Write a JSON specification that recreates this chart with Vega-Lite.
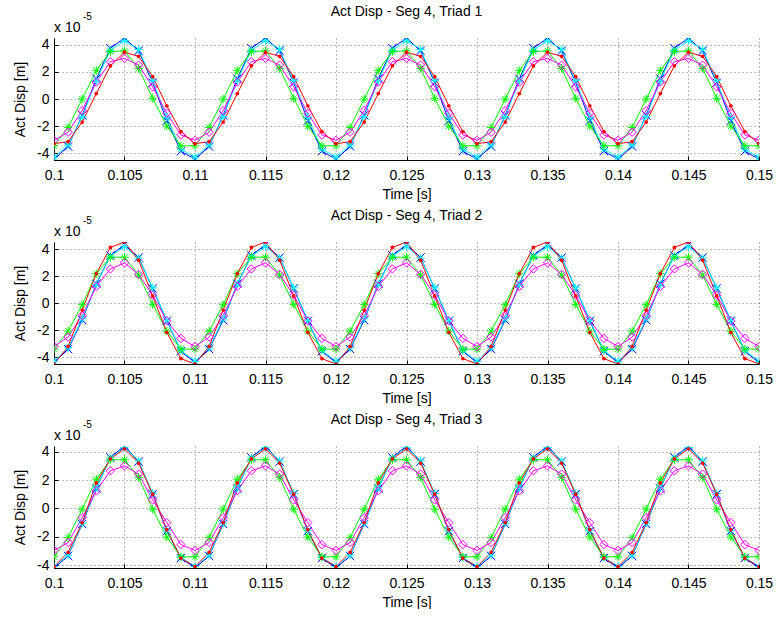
{
  "$schema": "https://vega.github.io/schema/vega-lite/v6.json",
  "background": "white",
  "padding": {"left": 13, "top": 5, "right": 5, "bottom": 0},
  "config": {
    "view": {"stroke": null},
    "font": "Liberation Sans",
    "axis": {
      "domainColor": "#000",
      "tickColor": "#000",
      "labelColor": "#000",
      "titleColor": "#000",
      "labelFont": "Liberation Sans",
      "titleFont": "Liberation Sans",
      "labelFontSize": 14,
      "titleFontSize": 14,
      "titleFontWeight": "normal",
      "gridColor": "#000",
      "gridOpacity": 0.55,
      "gridDash": [1, 3],
      "tickSize": -4,
      "labelFlush": false,
      "labelOverlap": false
    },
    "title": {"font": "Liberation Sans", "fontSize": 14, "fontWeight": "normal", "color": "#000", "frame": "group", "offset": -7}
  },
  "datasets": {
    "p1": [
      {"s":"b","t":0.1,"v":-4.45},{"s":"b","t":0.101,"v":-3.5},{"s":"b","t":0.102,"v":-1.2},{"s":"b","t":0.103,"v":1.5},{"s":"b","t":0.104,"v":3.75},{"s":"b","t":0.105,"v":4.5},{"s":"b","t":0.106,"v":3.55},{"s":"b","t":0.107,"v":1.2},{"s":"b","t":0.108,"v":-1.6},{"s":"b","t":0.109,"v":-3.85},
      {"s":"b","t":0.11,"v":-4.45},{"s":"b","t":0.111,"v":-3.5},{"s":"b","t":0.112,"v":-1.2},{"s":"b","t":0.113,"v":1.5},{"s":"b","t":0.114,"v":3.75},{"s":"b","t":0.115,"v":4.5},{"s":"b","t":0.116,"v":3.55},{"s":"b","t":0.117,"v":1.2},{"s":"b","t":0.118,"v":-1.6},{"s":"b","t":0.119,"v":-3.85},
      {"s":"b","t":0.12,"v":-4.45},{"s":"b","t":0.121,"v":-3.5},{"s":"b","t":0.122,"v":-1.2},{"s":"b","t":0.123,"v":1.5},{"s":"b","t":0.124,"v":3.75},{"s":"b","t":0.125,"v":4.5},{"s":"b","t":0.126,"v":3.55},{"s":"b","t":0.127,"v":1.2},{"s":"b","t":0.128,"v":-1.6},{"s":"b","t":0.129,"v":-3.85},
      {"s":"b","t":0.13,"v":-4.45},{"s":"b","t":0.131,"v":-3.5},{"s":"b","t":0.132,"v":-1.2},{"s":"b","t":0.133,"v":1.5},{"s":"b","t":0.134,"v":3.75},{"s":"b","t":0.135,"v":4.5},{"s":"b","t":0.136,"v":3.55},{"s":"b","t":0.137,"v":1.2},{"s":"b","t":0.138,"v":-1.6},{"s":"b","t":0.139,"v":-3.85},
      {"s":"b","t":0.14,"v":-4.45},{"s":"b","t":0.141,"v":-3.5},{"s":"b","t":0.142,"v":-1.2},{"s":"b","t":0.143,"v":1.5},{"s":"b","t":0.144,"v":3.75},{"s":"b","t":0.145,"v":4.5},{"s":"b","t":0.146,"v":3.55},{"s":"b","t":0.147,"v":1.2},{"s":"b","t":0.148,"v":-1.6},{"s":"b","t":0.149,"v":-3.85},
      {"s":"b","t":0.15,"v":-4.45},
      {"s":"c","t":0.1,"v":-4.3},{"s":"c","t":0.101,"v":-3.4},{"s":"c","t":0.102,"v":-1.3},{"s":"c","t":0.103,"v":1.35},{"s":"c","t":0.104,"v":3.6},{"s":"c","t":0.105,"v":4.3},{"s":"c","t":0.106,"v":3.65},{"s":"c","t":0.107,"v":1.35},{"s":"c","t":0.108,"v":-1.35},{"s":"c","t":0.109,"v":-3.7},
      {"s":"c","t":0.11,"v":-4.3},{"s":"c","t":0.111,"v":-3.4},{"s":"c","t":0.112,"v":-1.3},{"s":"c","t":0.113,"v":1.35},{"s":"c","t":0.114,"v":3.6},{"s":"c","t":0.115,"v":4.3},{"s":"c","t":0.116,"v":3.65},{"s":"c","t":0.117,"v":1.35},{"s":"c","t":0.118,"v":-1.35},{"s":"c","t":0.119,"v":-3.7},
      {"s":"c","t":0.12,"v":-4.3},{"s":"c","t":0.121,"v":-3.4},{"s":"c","t":0.122,"v":-1.3},{"s":"c","t":0.123,"v":1.35},{"s":"c","t":0.124,"v":3.6},{"s":"c","t":0.125,"v":4.3},{"s":"c","t":0.126,"v":3.65},{"s":"c","t":0.127,"v":1.35},{"s":"c","t":0.128,"v":-1.35},{"s":"c","t":0.129,"v":-3.7},
      {"s":"c","t":0.13,"v":-4.3},{"s":"c","t":0.131,"v":-3.4},{"s":"c","t":0.132,"v":-1.3},{"s":"c","t":0.133,"v":1.35},{"s":"c","t":0.134,"v":3.6},{"s":"c","t":0.135,"v":4.3},{"s":"c","t":0.136,"v":3.65},{"s":"c","t":0.137,"v":1.35},{"s":"c","t":0.138,"v":-1.35},{"s":"c","t":0.139,"v":-3.7},
      {"s":"c","t":0.14,"v":-4.3},{"s":"c","t":0.141,"v":-3.4},{"s":"c","t":0.142,"v":-1.3},{"s":"c","t":0.143,"v":1.35},{"s":"c","t":0.144,"v":3.6},{"s":"c","t":0.145,"v":4.3},{"s":"c","t":0.146,"v":3.65},{"s":"c","t":0.147,"v":1.35},{"s":"c","t":0.148,"v":-1.35},{"s":"c","t":0.149,"v":-3.7},
      {"s":"c","t":0.15,"v":-4.3},
      {"s":"g","t":0.1,"v":-3.45},{"s":"g","t":0.101,"v":-2.1},{"s":"g","t":0.102,"v":0},{"s":"g","t":0.103,"v":2.1},{"s":"g","t":0.104,"v":3.5},{"s":"g","t":0.105,"v":3.55},{"s":"g","t":0.106,"v":2.25},{"s":"g","t":0.107,"v":0.05},{"s":"g","t":0.108,"v":-2.0},{"s":"g","t":0.109,"v":-3.45},
      {"s":"g","t":0.11,"v":-3.45},{"s":"g","t":0.111,"v":-2.1},{"s":"g","t":0.112,"v":0},{"s":"g","t":0.113,"v":2.1},{"s":"g","t":0.114,"v":3.5},{"s":"g","t":0.115,"v":3.55},{"s":"g","t":0.116,"v":2.25},{"s":"g","t":0.117,"v":0.05},{"s":"g","t":0.118,"v":-2.0},{"s":"g","t":0.119,"v":-3.45},
      {"s":"g","t":0.12,"v":-3.45},{"s":"g","t":0.121,"v":-2.1},{"s":"g","t":0.122,"v":0},{"s":"g","t":0.123,"v":2.1},{"s":"g","t":0.124,"v":3.5},{"s":"g","t":0.125,"v":3.55},{"s":"g","t":0.126,"v":2.25},{"s":"g","t":0.127,"v":0.05},{"s":"g","t":0.128,"v":-2.0},{"s":"g","t":0.129,"v":-3.45},
      {"s":"g","t":0.13,"v":-3.45},{"s":"g","t":0.131,"v":-2.1},{"s":"g","t":0.132,"v":0},{"s":"g","t":0.133,"v":2.1},{"s":"g","t":0.134,"v":3.5},{"s":"g","t":0.135,"v":3.55},{"s":"g","t":0.136,"v":2.25},{"s":"g","t":0.137,"v":0.05},{"s":"g","t":0.138,"v":-2.0},{"s":"g","t":0.139,"v":-3.45},
      {"s":"g","t":0.14,"v":-3.45},{"s":"g","t":0.141,"v":-2.1},{"s":"g","t":0.142,"v":0},{"s":"g","t":0.143,"v":2.1},{"s":"g","t":0.144,"v":3.5},{"s":"g","t":0.145,"v":3.55},{"s":"g","t":0.146,"v":2.25},{"s":"g","t":0.147,"v":0.05},{"s":"g","t":0.148,"v":-2.0},{"s":"g","t":0.149,"v":-3.45},
      {"s":"g","t":0.15,"v":-3.45},
      {"s":"m","t":0.1,"v":-3.05},{"s":"m","t":0.101,"v":-2.45},{"s":"m","t":0.102,"v":-0.85},{"s":"m","t":0.103,"v":1.25},{"s":"m","t":0.104,"v":2.75},{"s":"m","t":0.105,"v":3.0},{"s":"m","t":0.106,"v":2.5},{"s":"m","t":0.107,"v":0.9},{"s":"m","t":0.108,"v":-1.05},{"s":"m","t":0.109,"v":-2.65},
      {"s":"m","t":0.11,"v":-3.05},{"s":"m","t":0.111,"v":-2.45},{"s":"m","t":0.112,"v":-0.85},{"s":"m","t":0.113,"v":1.25},{"s":"m","t":0.114,"v":2.75},{"s":"m","t":0.115,"v":3.0},{"s":"m","t":0.116,"v":2.5},{"s":"m","t":0.117,"v":0.9},{"s":"m","t":0.118,"v":-1.05},{"s":"m","t":0.119,"v":-2.65},
      {"s":"m","t":0.12,"v":-3.05},{"s":"m","t":0.121,"v":-2.45},{"s":"m","t":0.122,"v":-0.85},{"s":"m","t":0.123,"v":1.25},{"s":"m","t":0.124,"v":2.75},{"s":"m","t":0.125,"v":3.0},{"s":"m","t":0.126,"v":2.5},{"s":"m","t":0.127,"v":0.9},{"s":"m","t":0.128,"v":-1.05},{"s":"m","t":0.129,"v":-2.65},
      {"s":"m","t":0.13,"v":-3.05},{"s":"m","t":0.131,"v":-2.45},{"s":"m","t":0.132,"v":-0.85},{"s":"m","t":0.133,"v":1.25},{"s":"m","t":0.134,"v":2.75},{"s":"m","t":0.135,"v":3.0},{"s":"m","t":0.136,"v":2.5},{"s":"m","t":0.137,"v":0.9},{"s":"m","t":0.138,"v":-1.05},{"s":"m","t":0.139,"v":-2.65},
      {"s":"m","t":0.14,"v":-3.05},{"s":"m","t":0.141,"v":-2.45},{"s":"m","t":0.142,"v":-0.85},{"s":"m","t":0.143,"v":1.25},{"s":"m","t":0.144,"v":2.75},{"s":"m","t":0.145,"v":3.0},{"s":"m","t":0.146,"v":2.5},{"s":"m","t":0.147,"v":0.9},{"s":"m","t":0.148,"v":-1.05},{"s":"m","t":0.149,"v":-2.65},
      {"s":"m","t":0.15,"v":-3.05},
      {"s":"r","t":0.1,"v":-3.3},{"s":"r","t":0.101,"v":-3.15},{"s":"r","t":0.102,"v":-1.7},{"s":"r","t":0.103,"v":0.4},{"s":"r","t":0.104,"v":2.45},{"s":"r","t":0.105,"v":3.45},{"s":"r","t":0.106,"v":3.15},{"s":"r","t":0.107,"v":1.65},{"s":"r","t":0.108,"v":-0.5},{"s":"r","t":0.109,"v":-2.4},
      {"s":"r","t":0.11,"v":-3.3},{"s":"r","t":0.111,"v":-3.15},{"s":"r","t":0.112,"v":-1.7},{"s":"r","t":0.113,"v":0.4},{"s":"r","t":0.114,"v":2.45},{"s":"r","t":0.115,"v":3.45},{"s":"r","t":0.116,"v":3.15},{"s":"r","t":0.117,"v":1.65},{"s":"r","t":0.118,"v":-0.5},{"s":"r","t":0.119,"v":-2.4},
      {"s":"r","t":0.12,"v":-3.3},{"s":"r","t":0.121,"v":-3.15},{"s":"r","t":0.122,"v":-1.7},{"s":"r","t":0.123,"v":0.4},{"s":"r","t":0.124,"v":2.45},{"s":"r","t":0.125,"v":3.45},{"s":"r","t":0.126,"v":3.15},{"s":"r","t":0.127,"v":1.65},{"s":"r","t":0.128,"v":-0.5},{"s":"r","t":0.129,"v":-2.4},
      {"s":"r","t":0.13,"v":-3.3},{"s":"r","t":0.131,"v":-3.15},{"s":"r","t":0.132,"v":-1.7},{"s":"r","t":0.133,"v":0.4},{"s":"r","t":0.134,"v":2.45},{"s":"r","t":0.135,"v":3.45},{"s":"r","t":0.136,"v":3.15},{"s":"r","t":0.137,"v":1.65},{"s":"r","t":0.138,"v":-0.5},{"s":"r","t":0.139,"v":-2.4},
      {"s":"r","t":0.14,"v":-3.3},{"s":"r","t":0.141,"v":-3.15},{"s":"r","t":0.142,"v":-1.7},{"s":"r","t":0.143,"v":0.4},{"s":"r","t":0.144,"v":2.45},{"s":"r","t":0.145,"v":3.45},{"s":"r","t":0.146,"v":3.15},{"s":"r","t":0.147,"v":1.65},{"s":"r","t":0.148,"v":-0.5},{"s":"r","t":0.149,"v":-2.4},
      {"s":"r","t":0.15,"v":-3.3}
    ],
    "p2": [
      {"s":"b","t":0.1,"v":-4.4},{"s":"b","t":0.101,"v":-3.4},{"s":"b","t":0.102,"v":-1.25},{"s":"b","t":0.103,"v":1.45},{"s":"b","t":0.104,"v":3.55},{"s":"b","t":0.105,"v":4.35},{"s":"b","t":0.106,"v":3.4},{"s":"b","t":0.107,"v":1.1},{"s":"b","t":0.108,"v":-1.3},{"s":"b","t":0.109,"v":-3.55},
      {"s":"b","t":0.11,"v":-4.4},{"s":"b","t":0.111,"v":-3.4},{"s":"b","t":0.112,"v":-1.25},{"s":"b","t":0.113,"v":1.45},{"s":"b","t":0.114,"v":3.55},{"s":"b","t":0.115,"v":4.35},{"s":"b","t":0.116,"v":3.4},{"s":"b","t":0.117,"v":1.1},{"s":"b","t":0.118,"v":-1.3},{"s":"b","t":0.119,"v":-3.55},
      {"s":"b","t":0.12,"v":-4.4},{"s":"b","t":0.121,"v":-3.4},{"s":"b","t":0.122,"v":-1.25},{"s":"b","t":0.123,"v":1.45},{"s":"b","t":0.124,"v":3.55},{"s":"b","t":0.125,"v":4.35},{"s":"b","t":0.126,"v":3.4},{"s":"b","t":0.127,"v":1.1},{"s":"b","t":0.128,"v":-1.3},{"s":"b","t":0.129,"v":-3.55},
      {"s":"b","t":0.13,"v":-4.4},{"s":"b","t":0.131,"v":-3.4},{"s":"b","t":0.132,"v":-1.25},{"s":"b","t":0.133,"v":1.45},{"s":"b","t":0.134,"v":3.55},{"s":"b","t":0.135,"v":4.35},{"s":"b","t":0.136,"v":3.4},{"s":"b","t":0.137,"v":1.1},{"s":"b","t":0.138,"v":-1.3},{"s":"b","t":0.139,"v":-3.55},
      {"s":"b","t":0.14,"v":-4.4},{"s":"b","t":0.141,"v":-3.4},{"s":"b","t":0.142,"v":-1.25},{"s":"b","t":0.143,"v":1.45},{"s":"b","t":0.144,"v":3.55},{"s":"b","t":0.145,"v":4.35},{"s":"b","t":0.146,"v":3.4},{"s":"b","t":0.147,"v":1.1},{"s":"b","t":0.148,"v":-1.3},{"s":"b","t":0.149,"v":-3.55},
      {"s":"b","t":0.15,"v":-4.4},
      {"s":"c","t":0.1,"v":-4.3},{"s":"c","t":0.101,"v":-3.3},{"s":"c","t":0.102,"v":-1.15},{"s":"c","t":0.103,"v":1.4},{"s":"c","t":0.104,"v":3.5},{"s":"c","t":0.105,"v":4.2},{"s":"c","t":0.106,"v":3.35},{"s":"c","t":0.107,"v":1.15},{"s":"c","t":0.108,"v":-1.25},{"s":"c","t":0.109,"v":-3.5},
      {"s":"c","t":0.11,"v":-4.3},{"s":"c","t":0.111,"v":-3.3},{"s":"c","t":0.112,"v":-1.15},{"s":"c","t":0.113,"v":1.4},{"s":"c","t":0.114,"v":3.5},{"s":"c","t":0.115,"v":4.2},{"s":"c","t":0.116,"v":3.35},{"s":"c","t":0.117,"v":1.15},{"s":"c","t":0.118,"v":-1.25},{"s":"c","t":0.119,"v":-3.5},
      {"s":"c","t":0.12,"v":-4.3},{"s":"c","t":0.121,"v":-3.3},{"s":"c","t":0.122,"v":-1.15},{"s":"c","t":0.123,"v":1.4},{"s":"c","t":0.124,"v":3.5},{"s":"c","t":0.125,"v":4.2},{"s":"c","t":0.126,"v":3.35},{"s":"c","t":0.127,"v":1.15},{"s":"c","t":0.128,"v":-1.25},{"s":"c","t":0.129,"v":-3.5},
      {"s":"c","t":0.13,"v":-4.3},{"s":"c","t":0.131,"v":-3.3},{"s":"c","t":0.132,"v":-1.15},{"s":"c","t":0.133,"v":1.4},{"s":"c","t":0.134,"v":3.5},{"s":"c","t":0.135,"v":4.2},{"s":"c","t":0.136,"v":3.35},{"s":"c","t":0.137,"v":1.15},{"s":"c","t":0.138,"v":-1.25},{"s":"c","t":0.139,"v":-3.5},
      {"s":"c","t":0.14,"v":-4.3},{"s":"c","t":0.141,"v":-3.3},{"s":"c","t":0.142,"v":-1.15},{"s":"c","t":0.143,"v":1.4},{"s":"c","t":0.144,"v":3.5},{"s":"c","t":0.145,"v":4.2},{"s":"c","t":0.146,"v":3.35},{"s":"c","t":0.147,"v":1.15},{"s":"c","t":0.148,"v":-1.25},{"s":"c","t":0.149,"v":-3.5},
      {"s":"c","t":0.15,"v":-4.3},
      {"s":"g","t":0.1,"v":-3.4},{"s":"g","t":0.101,"v":-2.06},{"s":"g","t":0.102,"v":-0.1},{"s":"g","t":0.103,"v":2.2},{"s":"g","t":0.104,"v":3.42},{"s":"g","t":0.105,"v":3.42},{"s":"g","t":0.106,"v":2.1},{"s":"g","t":0.107,"v":-0.08},{"s":"g","t":0.108,"v":-2.06},{"s":"g","t":0.109,"v":-3.4},
      {"s":"g","t":0.11,"v":-3.4},{"s":"g","t":0.111,"v":-2.06},{"s":"g","t":0.112,"v":-0.1},{"s":"g","t":0.113,"v":2.2},{"s":"g","t":0.114,"v":3.42},{"s":"g","t":0.115,"v":3.42},{"s":"g","t":0.116,"v":2.1},{"s":"g","t":0.117,"v":-0.08},{"s":"g","t":0.118,"v":-2.06},{"s":"g","t":0.119,"v":-3.4},
      {"s":"g","t":0.12,"v":-3.4},{"s":"g","t":0.121,"v":-2.06},{"s":"g","t":0.122,"v":-0.1},{"s":"g","t":0.123,"v":2.2},{"s":"g","t":0.124,"v":3.42},{"s":"g","t":0.125,"v":3.42},{"s":"g","t":0.126,"v":2.1},{"s":"g","t":0.127,"v":-0.08},{"s":"g","t":0.128,"v":-2.06},{"s":"g","t":0.129,"v":-3.4},
      {"s":"g","t":0.13,"v":-3.4},{"s":"g","t":0.131,"v":-2.06},{"s":"g","t":0.132,"v":-0.1},{"s":"g","t":0.133,"v":2.2},{"s":"g","t":0.134,"v":3.42},{"s":"g","t":0.135,"v":3.42},{"s":"g","t":0.136,"v":2.1},{"s":"g","t":0.137,"v":-0.08},{"s":"g","t":0.138,"v":-2.06},{"s":"g","t":0.139,"v":-3.4},
      {"s":"g","t":0.14,"v":-3.4},{"s":"g","t":0.141,"v":-2.06},{"s":"g","t":0.142,"v":-0.1},{"s":"g","t":0.143,"v":2.2},{"s":"g","t":0.144,"v":3.42},{"s":"g","t":0.145,"v":3.42},{"s":"g","t":0.146,"v":2.1},{"s":"g","t":0.147,"v":-0.08},{"s":"g","t":0.148,"v":-2.06},{"s":"g","t":0.149,"v":-3.4},
      {"s":"g","t":0.15,"v":-3.4},
      {"s":"m","t":0.1,"v":-3.2},{"s":"m","t":0.101,"v":-2.5},{"s":"m","t":0.102,"v":-0.9},{"s":"m","t":0.103,"v":1.25},{"s":"m","t":0.104,"v":2.55},{"s":"m","t":0.105,"v":3.0},{"s":"m","t":0.106,"v":2.15},{"s":"m","t":0.107,"v":0.6},{"s":"m","t":0.108,"v":-1.3},{"s":"m","t":0.109,"v":-2.6},
      {"s":"m","t":0.11,"v":-3.2},{"s":"m","t":0.111,"v":-2.5},{"s":"m","t":0.112,"v":-0.9},{"s":"m","t":0.113,"v":1.25},{"s":"m","t":0.114,"v":2.55},{"s":"m","t":0.115,"v":3.0},{"s":"m","t":0.116,"v":2.15},{"s":"m","t":0.117,"v":0.6},{"s":"m","t":0.118,"v":-1.3},{"s":"m","t":0.119,"v":-2.6},
      {"s":"m","t":0.12,"v":-3.2},{"s":"m","t":0.121,"v":-2.5},{"s":"m","t":0.122,"v":-0.9},{"s":"m","t":0.123,"v":1.25},{"s":"m","t":0.124,"v":2.55},{"s":"m","t":0.125,"v":3.0},{"s":"m","t":0.126,"v":2.15},{"s":"m","t":0.127,"v":0.6},{"s":"m","t":0.128,"v":-1.3},{"s":"m","t":0.129,"v":-2.6},
      {"s":"m","t":0.13,"v":-3.2},{"s":"m","t":0.131,"v":-2.5},{"s":"m","t":0.132,"v":-0.9},{"s":"m","t":0.133,"v":1.25},{"s":"m","t":0.134,"v":2.55},{"s":"m","t":0.135,"v":3.0},{"s":"m","t":0.136,"v":2.15},{"s":"m","t":0.137,"v":0.6},{"s":"m","t":0.138,"v":-1.3},{"s":"m","t":0.139,"v":-2.6},
      {"s":"m","t":0.14,"v":-3.2},{"s":"m","t":0.141,"v":-2.5},{"s":"m","t":0.142,"v":-0.9},{"s":"m","t":0.143,"v":1.25},{"s":"m","t":0.144,"v":2.55},{"s":"m","t":0.145,"v":3.0},{"s":"m","t":0.146,"v":2.15},{"s":"m","t":0.147,"v":0.6},{"s":"m","t":0.148,"v":-1.3},{"s":"m","t":0.149,"v":-2.6},
      {"s":"m","t":0.15,"v":-3.2},
      {"s":"r","t":0.1,"v":-4.5},{"s":"r","t":0.101,"v":-3.2},{"s":"r","t":0.102,"v":-0.5},{"s":"r","t":0.103,"v":2.2},{"s":"r","t":0.104,"v":4.15},{"s":"r","t":0.105,"v":4.55},{"s":"r","t":0.106,"v":3.2},{"s":"r","t":0.107,"v":0.55},{"s":"r","t":0.108,"v":-2.15},{"s":"r","t":0.109,"v":-4.1},
      {"s":"r","t":0.11,"v":-4.5},{"s":"r","t":0.111,"v":-3.2},{"s":"r","t":0.112,"v":-0.5},{"s":"r","t":0.113,"v":2.2},{"s":"r","t":0.114,"v":4.15},{"s":"r","t":0.115,"v":4.55},{"s":"r","t":0.116,"v":3.2},{"s":"r","t":0.117,"v":0.55},{"s":"r","t":0.118,"v":-2.15},{"s":"r","t":0.119,"v":-4.1},
      {"s":"r","t":0.12,"v":-4.5},{"s":"r","t":0.121,"v":-3.2},{"s":"r","t":0.122,"v":-0.5},{"s":"r","t":0.123,"v":2.2},{"s":"r","t":0.124,"v":4.15},{"s":"r","t":0.125,"v":4.55},{"s":"r","t":0.126,"v":3.2},{"s":"r","t":0.127,"v":0.55},{"s":"r","t":0.128,"v":-2.15},{"s":"r","t":0.129,"v":-4.1},
      {"s":"r","t":0.13,"v":-4.5},{"s":"r","t":0.131,"v":-3.2},{"s":"r","t":0.132,"v":-0.5},{"s":"r","t":0.133,"v":2.2},{"s":"r","t":0.134,"v":4.15},{"s":"r","t":0.135,"v":4.55},{"s":"r","t":0.136,"v":3.2},{"s":"r","t":0.137,"v":0.55},{"s":"r","t":0.138,"v":-2.15},{"s":"r","t":0.139,"v":-4.1},
      {"s":"r","t":0.14,"v":-4.5},{"s":"r","t":0.141,"v":-3.2},{"s":"r","t":0.142,"v":-0.5},{"s":"r","t":0.143,"v":2.2},{"s":"r","t":0.144,"v":4.15},{"s":"r","t":0.145,"v":4.55},{"s":"r","t":0.146,"v":3.2},{"s":"r","t":0.147,"v":0.55},{"s":"r","t":0.148,"v":-2.15},{"s":"r","t":0.149,"v":-4.1},
      {"s":"r","t":0.15,"v":-4.5}
    ],
    "p3": [
      {"s":"b","t":0.1,"v":-4.2},{"s":"b","t":0.101,"v":-3.35},{"s":"b","t":0.102,"v":-1.1},{"s":"b","t":0.103,"v":1.4},{"s":"b","t":0.104,"v":3.6},{"s":"b","t":0.105,"v":4.4},{"s":"b","t":0.106,"v":3.3},{"s":"b","t":0.107,"v":1.0},{"s":"b","t":0.108,"v":-1.6},{"s":"b","t":0.109,"v":-3.5},
      {"s":"b","t":0.11,"v":-4.2},{"s":"b","t":0.111,"v":-3.35},{"s":"b","t":0.112,"v":-1.1},{"s":"b","t":0.113,"v":1.4},{"s":"b","t":0.114,"v":3.6},{"s":"b","t":0.115,"v":4.4},{"s":"b","t":0.116,"v":3.3},{"s":"b","t":0.117,"v":1.0},{"s":"b","t":0.118,"v":-1.6},{"s":"b","t":0.119,"v":-3.5},
      {"s":"b","t":0.12,"v":-4.2},{"s":"b","t":0.121,"v":-3.35},{"s":"b","t":0.122,"v":-1.1},{"s":"b","t":0.123,"v":1.4},{"s":"b","t":0.124,"v":3.6},{"s":"b","t":0.125,"v":4.4},{"s":"b","t":0.126,"v":3.3},{"s":"b","t":0.127,"v":1.0},{"s":"b","t":0.128,"v":-1.6},{"s":"b","t":0.129,"v":-3.5},
      {"s":"b","t":0.13,"v":-4.2},{"s":"b","t":0.131,"v":-3.35},{"s":"b","t":0.132,"v":-1.1},{"s":"b","t":0.133,"v":1.4},{"s":"b","t":0.134,"v":3.6},{"s":"b","t":0.135,"v":4.4},{"s":"b","t":0.136,"v":3.3},{"s":"b","t":0.137,"v":1.0},{"s":"b","t":0.138,"v":-1.6},{"s":"b","t":0.139,"v":-3.5},
      {"s":"b","t":0.14,"v":-4.2},{"s":"b","t":0.141,"v":-3.35},{"s":"b","t":0.142,"v":-1.1},{"s":"b","t":0.143,"v":1.4},{"s":"b","t":0.144,"v":3.6},{"s":"b","t":0.145,"v":4.4},{"s":"b","t":0.146,"v":3.3},{"s":"b","t":0.147,"v":1.0},{"s":"b","t":0.148,"v":-1.6},{"s":"b","t":0.149,"v":-3.5},
      {"s":"b","t":0.15,"v":-4.2},
      {"s":"c","t":0.1,"v":-4.1},{"s":"c","t":0.101,"v":-3.3},{"s":"c","t":0.102,"v":-1.05},{"s":"c","t":0.103,"v":1.45},{"s":"c","t":0.104,"v":3.55},{"s":"c","t":0.105,"v":4.3},{"s":"c","t":0.106,"v":3.35},{"s":"c","t":0.107,"v":1.05},{"s":"c","t":0.108,"v":-1.55},{"s":"c","t":0.109,"v":-3.45},
      {"s":"c","t":0.11,"v":-4.1},{"s":"c","t":0.111,"v":-3.3},{"s":"c","t":0.112,"v":-1.05},{"s":"c","t":0.113,"v":1.45},{"s":"c","t":0.114,"v":3.55},{"s":"c","t":0.115,"v":4.3},{"s":"c","t":0.116,"v":3.35},{"s":"c","t":0.117,"v":1.05},{"s":"c","t":0.118,"v":-1.55},{"s":"c","t":0.119,"v":-3.45},
      {"s":"c","t":0.12,"v":-4.1},{"s":"c","t":0.121,"v":-3.3},{"s":"c","t":0.122,"v":-1.05},{"s":"c","t":0.123,"v":1.45},{"s":"c","t":0.124,"v":3.55},{"s":"c","t":0.125,"v":4.3},{"s":"c","t":0.126,"v":3.35},{"s":"c","t":0.127,"v":1.05},{"s":"c","t":0.128,"v":-1.55},{"s":"c","t":0.129,"v":-3.45},
      {"s":"c","t":0.13,"v":-4.1},{"s":"c","t":0.131,"v":-3.3},{"s":"c","t":0.132,"v":-1.05},{"s":"c","t":0.133,"v":1.45},{"s":"c","t":0.134,"v":3.55},{"s":"c","t":0.135,"v":4.3},{"s":"c","t":0.136,"v":3.35},{"s":"c","t":0.137,"v":1.05},{"s":"c","t":0.138,"v":-1.55},{"s":"c","t":0.139,"v":-3.45},
      {"s":"c","t":0.14,"v":-4.1},{"s":"c","t":0.141,"v":-3.3},{"s":"c","t":0.142,"v":-1.05},{"s":"c","t":0.143,"v":1.45},{"s":"c","t":0.144,"v":3.55},{"s":"c","t":0.145,"v":4.3},{"s":"c","t":0.146,"v":3.35},{"s":"c","t":0.147,"v":1.05},{"s":"c","t":0.148,"v":-1.55},{"s":"c","t":0.149,"v":-3.45},
      {"s":"c","t":0.15,"v":-4.1},
      {"s":"g","t":0.1,"v":-3.41},{"s":"g","t":0.101,"v":-2.06},{"s":"g","t":0.102,"v":-0.05},{"s":"g","t":0.103,"v":2.06},{"s":"g","t":0.104,"v":3.43},{"s":"g","t":0.105,"v":3.43},{"s":"g","t":0.106,"v":2.18},{"s":"g","t":0.107,"v":-0.06},{"s":"g","t":0.108,"v":-2.02},{"s":"g","t":0.109,"v":-3.41},
      {"s":"g","t":0.11,"v":-3.41},{"s":"g","t":0.111,"v":-2.06},{"s":"g","t":0.112,"v":-0.05},{"s":"g","t":0.113,"v":2.06},{"s":"g","t":0.114,"v":3.43},{"s":"g","t":0.115,"v":3.43},{"s":"g","t":0.116,"v":2.18},{"s":"g","t":0.117,"v":-0.06},{"s":"g","t":0.118,"v":-2.02},{"s":"g","t":0.119,"v":-3.41},
      {"s":"g","t":0.12,"v":-3.41},{"s":"g","t":0.121,"v":-2.06},{"s":"g","t":0.122,"v":-0.05},{"s":"g","t":0.123,"v":2.06},{"s":"g","t":0.124,"v":3.43},{"s":"g","t":0.125,"v":3.43},{"s":"g","t":0.126,"v":2.18},{"s":"g","t":0.127,"v":-0.06},{"s":"g","t":0.128,"v":-2.02},{"s":"g","t":0.129,"v":-3.41},
      {"s":"g","t":0.13,"v":-3.41},{"s":"g","t":0.131,"v":-2.06},{"s":"g","t":0.132,"v":-0.05},{"s":"g","t":0.133,"v":2.06},{"s":"g","t":0.134,"v":3.43},{"s":"g","t":0.135,"v":3.43},{"s":"g","t":0.136,"v":2.18},{"s":"g","t":0.137,"v":-0.06},{"s":"g","t":0.138,"v":-2.02},{"s":"g","t":0.139,"v":-3.41},
      {"s":"g","t":0.14,"v":-3.41},{"s":"g","t":0.141,"v":-2.06},{"s":"g","t":0.142,"v":-0.05},{"s":"g","t":0.143,"v":2.06},{"s":"g","t":0.144,"v":3.43},{"s":"g","t":0.145,"v":3.43},{"s":"g","t":0.146,"v":2.18},{"s":"g","t":0.147,"v":-0.06},{"s":"g","t":0.148,"v":-2.02},{"s":"g","t":0.149,"v":-3.41},
      {"s":"g","t":0.15,"v":-3.41},
      {"s":"m","t":0.1,"v":-2.96},{"s":"m","t":0.101,"v":-2.4},{"s":"m","t":0.102,"v":-0.65},{"s":"m","t":0.103,"v":1.24},{"s":"m","t":0.104,"v":2.65},{"s":"m","t":0.105,"v":3.0},{"s":"m","t":0.106,"v":2.42},{"s":"m","t":0.107,"v":0.6},{"s":"m","t":0.108,"v":-1.0},{"s":"m","t":0.109,"v":-2.55},
      {"s":"m","t":0.11,"v":-2.96},{"s":"m","t":0.111,"v":-2.4},{"s":"m","t":0.112,"v":-0.65},{"s":"m","t":0.113,"v":1.24},{"s":"m","t":0.114,"v":2.65},{"s":"m","t":0.115,"v":3.0},{"s":"m","t":0.116,"v":2.42},{"s":"m","t":0.117,"v":0.6},{"s":"m","t":0.118,"v":-1.0},{"s":"m","t":0.119,"v":-2.55},
      {"s":"m","t":0.12,"v":-2.96},{"s":"m","t":0.121,"v":-2.4},{"s":"m","t":0.122,"v":-0.65},{"s":"m","t":0.123,"v":1.24},{"s":"m","t":0.124,"v":2.65},{"s":"m","t":0.125,"v":3.0},{"s":"m","t":0.126,"v":2.42},{"s":"m","t":0.127,"v":0.6},{"s":"m","t":0.128,"v":-1.0},{"s":"m","t":0.129,"v":-2.55},
      {"s":"m","t":0.13,"v":-2.96},{"s":"m","t":0.131,"v":-2.4},{"s":"m","t":0.132,"v":-0.65},{"s":"m","t":0.133,"v":1.24},{"s":"m","t":0.134,"v":2.65},{"s":"m","t":0.135,"v":3.0},{"s":"m","t":0.136,"v":2.42},{"s":"m","t":0.137,"v":0.6},{"s":"m","t":0.138,"v":-1.0},{"s":"m","t":0.139,"v":-2.55},
      {"s":"m","t":0.14,"v":-2.96},{"s":"m","t":0.141,"v":-2.4},{"s":"m","t":0.142,"v":-0.65},{"s":"m","t":0.143,"v":1.24},{"s":"m","t":0.144,"v":2.65},{"s":"m","t":0.145,"v":3.0},{"s":"m","t":0.146,"v":2.42},{"s":"m","t":0.147,"v":0.6},{"s":"m","t":0.148,"v":-1.0},{"s":"m","t":0.149,"v":-2.55},
      {"s":"m","t":0.15,"v":-2.96},
      {"s":"r","t":0.1,"v":-4.1},{"s":"r","t":0.101,"v":-3.1},{"s":"r","t":0.102,"v":-1.0},{"s":"r","t":0.103,"v":1.8},{"s":"r","t":0.104,"v":3.5},{"s":"r","t":0.105,"v":4.2},{"s":"r","t":0.106,"v":3.2},{"s":"r","t":0.107,"v":1.0},{"s":"r","t":0.108,"v":-1.5},{"s":"r","t":0.109,"v":-3.5},
      {"s":"r","t":0.11,"v":-4.1},{"s":"r","t":0.111,"v":-3.1},{"s":"r","t":0.112,"v":-1.0},{"s":"r","t":0.113,"v":1.8},{"s":"r","t":0.114,"v":3.5},{"s":"r","t":0.115,"v":4.2},{"s":"r","t":0.116,"v":3.2},{"s":"r","t":0.117,"v":1.0},{"s":"r","t":0.118,"v":-1.5},{"s":"r","t":0.119,"v":-3.5},
      {"s":"r","t":0.12,"v":-4.1},{"s":"r","t":0.121,"v":-3.1},{"s":"r","t":0.122,"v":-1.0},{"s":"r","t":0.123,"v":1.8},{"s":"r","t":0.124,"v":3.5},{"s":"r","t":0.125,"v":4.2},{"s":"r","t":0.126,"v":3.2},{"s":"r","t":0.127,"v":1.0},{"s":"r","t":0.128,"v":-1.5},{"s":"r","t":0.129,"v":-3.5},
      {"s":"r","t":0.13,"v":-4.1},{"s":"r","t":0.131,"v":-3.1},{"s":"r","t":0.132,"v":-1.0},{"s":"r","t":0.133,"v":1.8},{"s":"r","t":0.134,"v":3.5},{"s":"r","t":0.135,"v":4.2},{"s":"r","t":0.136,"v":3.2},{"s":"r","t":0.137,"v":1.0},{"s":"r","t":0.138,"v":-1.5},{"s":"r","t":0.139,"v":-3.5},
      {"s":"r","t":0.14,"v":-4.1},{"s":"r","t":0.141,"v":-3.1},{"s":"r","t":0.142,"v":-1.0},{"s":"r","t":0.143,"v":1.8},{"s":"r","t":0.144,"v":3.5},{"s":"r","t":0.145,"v":4.2},{"s":"r","t":0.146,"v":3.2},{"s":"r","t":0.147,"v":1.0},{"s":"r","t":0.148,"v":-1.5},{"s":"r","t":0.149,"v":-3.5},
      {"s":"r","t":0.15,"v":-4.1}
    ],
    "scale_note": [{"lab": "x 10", "sup": "-5"}]
  },
  "spacing": 82,
  "bounds": "flush",
  "vconcat": [
    {
      "width": 705,
      "height": 122,
      "title": {"text": "Act Disp - Seg 4, Triad 1"},
      "layer": [
        {
          "data": {"name": "p1"},
          "encoding": {
            "x": {"field": "t", "type": "quantitative", "scale": {"domain": [0.1, 0.15], "nice": false},
              "axis": {"title": "Time [s]", "values": [0.1, 0.105, 0.11, 0.115, 0.12, 0.125, 0.13, 0.135, 0.14, 0.145, 0.15], "format": ".3~f", "labelPadding": 12, "titlePadding": 5, "labelOverlap": false}},
            "y": {"field": "v", "type": "quantitative", "scale": {"domain": [-4.5, 4.5], "nice": false, "zero": false},
              "axis": {"title": "Act Disp [m]", "values": [-4, -2, 0, 2, 4], "labelExpr": "'' + datum.value", "labelPadding": 9, "titlePadding": 9, "labelOverlap": false}},
            "color": {"field": "s", "type": "nominal", "legend": null,
              "scale": {"domain": ["b", "c", "g", "m", "r"], "range": ["#0000ff", "#00ffff", "#00ff00", "#ff00ff", "#ff0000"]}}
          },
          "layer": [
            {"mark": {"type": "line", "strokeWidth": 1, "clip": true}},
            {"transform": [{"filter": "datum.s != 'r'"}],
              "mark": {"type": "point", "filled": false, "strokeWidth": 1, "size": 70, "opacity": 1, "clip": true},
              "encoding": {"shape": {"field": "s", "type": "nominal", "legend": null,
                "scale": {"domain": ["b", "c", "g", "m"], "range": ["M-1,-1L1,1M1,-1L-1,1", "M-1,0L1,0M0,-1L0,1M-0.7,-0.7L0.7,0.7M0.7,-0.7L-0.7,0.7", "M-1,0L1,0M0,-1L0,1M-0.7,-0.7L0.7,0.7M0.7,-0.7L-0.7,0.7", "diamond"]}}}},
            {"transform": [{"filter": "datum.s == 'r'"}],
              "mark": {"type": "circle", "size": 14, "opacity": 1, "clip": true}}
          ]
        },
        {
          "data": {"name": "scale_note"},
          "mark": {"type": "text", "align": "left", "baseline": "alphabetic", "dy": -6, "fontSize": 14, "fill": "#000", "font": "Liberation Sans"},
          "encoding": {
            "x": {"datum": 0.1, "type": "quantitative", "axis": {"title": "Time [s]", "values": [0.1, 0.105, 0.11, 0.115, 0.12, 0.125, 0.13, 0.135, 0.14, 0.145, 0.15], "format": ".3~f", "labelPadding": 12, "titlePadding": 5, "labelOverlap": false}},
            "y": {"datum": 4.5, "type": "quantitative", "axis": {"title": "Act Disp [m]", "values": [-4, -2, 0, 2, 4], "labelExpr": "'' + datum.value", "labelPadding": 9, "titlePadding": 9, "labelOverlap": false}},
            "text": {"field": "lab", "type": "nominal"}}
        },
        {
          "data": {"name": "scale_note"},
          "mark": {"type": "text", "align": "left", "baseline": "alphabetic", "dx": 29, "dy": -18, "fontSize": 10, "fill": "#000", "font": "Liberation Sans"},
          "encoding": {
            "x": {"datum": 0.1, "type": "quantitative", "axis": {"title": "Time [s]", "values": [0.1, 0.105, 0.11, 0.115, 0.12, 0.125, 0.13, 0.135, 0.14, 0.145, 0.15], "format": ".3~f", "labelPadding": 12, "titlePadding": 5, "labelOverlap": false}},
            "y": {"datum": 4.5, "type": "quantitative", "axis": {"title": "Act Disp [m]", "values": [-4, -2, 0, 2, 4], "labelExpr": "'' + datum.value", "labelPadding": 9, "titlePadding": 9, "labelOverlap": false}},
            "text": {"field": "sup", "type": "nominal"}}
        }
      ]
    },
    {
      "width": 705,
      "height": 122,
      "title": {"text": "Act Disp - Seg 4, Triad 2"},
      "layer": [
        {
          "data": {"name": "p2"},
          "encoding": {
            "x": {"field": "t", "type": "quantitative", "scale": {"domain": [0.1, 0.15], "nice": false},
              "axis": {"title": "Time [s]", "values": [0.1, 0.105, 0.11, 0.115, 0.12, 0.125, 0.13, 0.135, 0.14, 0.145, 0.15], "format": ".3~f", "labelPadding": 12, "titlePadding": 5, "labelOverlap": false}},
            "y": {"field": "v", "type": "quantitative", "scale": {"domain": [-4.5, 4.55], "nice": false, "zero": false},
              "axis": {"title": "Act Disp [m]", "values": [-4, -2, 0, 2, 4], "labelExpr": "'' + datum.value", "labelPadding": 9, "titlePadding": 9, "labelOverlap": false}},
            "color": {"field": "s", "type": "nominal", "legend": null,
              "scale": {"domain": ["b", "c", "g", "m", "r"], "range": ["#0000ff", "#00ffff", "#00ff00", "#ff00ff", "#ff0000"]}}
          },
          "layer": [
            {"mark": {"type": "line", "strokeWidth": 1, "clip": true}},
            {"transform": [{"filter": "datum.s != 'r'"}],
              "mark": {"type": "point", "filled": false, "strokeWidth": 1, "size": 70, "opacity": 1, "clip": true},
              "encoding": {"shape": {"field": "s", "type": "nominal", "legend": null,
                "scale": {"domain": ["b", "c", "g", "m"], "range": ["M-1,-1L1,1M1,-1L-1,1", "M-1,0L1,0M0,-1L0,1M-0.7,-0.7L0.7,0.7M0.7,-0.7L-0.7,0.7", "M-1,0L1,0M0,-1L0,1M-0.7,-0.7L0.7,0.7M0.7,-0.7L-0.7,0.7", "diamond"]}}}},
            {"transform": [{"filter": "datum.s == 'r'"}],
              "mark": {"type": "circle", "size": 14, "opacity": 1, "clip": true}}
          ]
        },
        {
          "data": {"name": "scale_note"},
          "mark": {"type": "text", "align": "left", "baseline": "alphabetic", "dy": -6, "fontSize": 14, "fill": "#000", "font": "Liberation Sans"},
          "encoding": {
            "x": {"datum": 0.1, "type": "quantitative", "axis": {"title": "Time [s]", "values": [0.1, 0.105, 0.11, 0.115, 0.12, 0.125, 0.13, 0.135, 0.14, 0.145, 0.15], "format": ".3~f", "labelPadding": 12, "titlePadding": 5, "labelOverlap": false}},
            "y": {"datum": 4.55, "type": "quantitative", "axis": {"title": "Act Disp [m]", "values": [-4, -2, 0, 2, 4], "labelExpr": "'' + datum.value", "labelPadding": 9, "titlePadding": 9, "labelOverlap": false}},
            "text": {"field": "lab", "type": "nominal"}}
        },
        {
          "data": {"name": "scale_note"},
          "mark": {"type": "text", "align": "left", "baseline": "alphabetic", "dx": 29, "dy": -18, "fontSize": 10, "fill": "#000", "font": "Liberation Sans"},
          "encoding": {
            "x": {"datum": 0.1, "type": "quantitative", "axis": {"title": "Time [s]", "values": [0.1, 0.105, 0.11, 0.115, 0.12, 0.125, 0.13, 0.135, 0.14, 0.145, 0.15], "format": ".3~f", "labelPadding": 12, "titlePadding": 5, "labelOverlap": false}},
            "y": {"datum": 4.55, "type": "quantitative", "axis": {"title": "Act Disp [m]", "values": [-4, -2, 0, 2, 4], "labelExpr": "'' + datum.value", "labelPadding": 9, "titlePadding": 9, "labelOverlap": false}},
            "text": {"field": "sup", "type": "nominal"}}
        }
      ]
    },
    {
      "width": 705,
      "height": 122,
      "title": {"text": "Act Disp - Seg 4, Triad 3"},
      "layer": [
        {
          "data": {"name": "p3"},
          "encoding": {
            "x": {"field": "t", "type": "quantitative", "scale": {"domain": [0.1, 0.15], "nice": false},
              "axis": {"title": "Time [s]", "values": [0.1, 0.105, 0.11, 0.115, 0.12, 0.125, 0.13, 0.135, 0.14, 0.145, 0.15], "format": ".3~f", "labelPadding": 12, "titlePadding": 5, "labelOverlap": false}},
            "y": {"field": "v", "type": "quantitative", "scale": {"domain": [-4.2, 4.4], "nice": false, "zero": false},
              "axis": {"title": "Act Disp [m]", "values": [-4, -2, 0, 2, 4], "labelExpr": "'' + datum.value", "labelPadding": 9, "titlePadding": 9, "labelOverlap": false}},
            "color": {"field": "s", "type": "nominal", "legend": null,
              "scale": {"domain": ["b", "c", "g", "m", "r"], "range": ["#0000ff", "#00ffff", "#00ff00", "#ff00ff", "#ff0000"]}}
          },
          "layer": [
            {"mark": {"type": "line", "strokeWidth": 1, "clip": true}},
            {"transform": [{"filter": "datum.s != 'r'"}],
              "mark": {"type": "point", "filled": false, "strokeWidth": 1, "size": 70, "opacity": 1, "clip": true},
              "encoding": {"shape": {"field": "s", "type": "nominal", "legend": null,
                "scale": {"domain": ["b", "c", "g", "m"], "range": ["M-1,-1L1,1M1,-1L-1,1", "M-1,0L1,0M0,-1L0,1M-0.7,-0.7L0.7,0.7M0.7,-0.7L-0.7,0.7", "M-1,0L1,0M0,-1L0,1M-0.7,-0.7L0.7,0.7M0.7,-0.7L-0.7,0.7", "diamond"]}}}},
            {"transform": [{"filter": "datum.s == 'r'"}],
              "mark": {"type": "circle", "size": 14, "opacity": 1, "clip": true}}
          ]
        },
        {
          "data": {"name": "scale_note"},
          "mark": {"type": "text", "align": "left", "baseline": "alphabetic", "dy": -6, "fontSize": 14, "fill": "#000", "font": "Liberation Sans"},
          "encoding": {
            "x": {"datum": 0.1, "type": "quantitative", "axis": {"title": "Time [s]", "values": [0.1, 0.105, 0.11, 0.115, 0.12, 0.125, 0.13, 0.135, 0.14, 0.145, 0.15], "format": ".3~f", "labelPadding": 12, "titlePadding": 5, "labelOverlap": false}},
            "y": {"datum": 4.4, "type": "quantitative", "axis": {"title": "Act Disp [m]", "values": [-4, -2, 0, 2, 4], "labelExpr": "'' + datum.value", "labelPadding": 9, "titlePadding": 9, "labelOverlap": false}},
            "text": {"field": "lab", "type": "nominal"}}
        },
        {
          "data": {"name": "scale_note"},
          "mark": {"type": "text", "align": "left", "baseline": "alphabetic", "dx": 29, "dy": -18, "fontSize": 10, "fill": "#000", "font": "Liberation Sans"},
          "encoding": {
            "x": {"datum": 0.1, "type": "quantitative", "axis": {"title": "Time [s]", "values": [0.1, 0.105, 0.11, 0.115, 0.12, 0.125, 0.13, 0.135, 0.14, 0.145, 0.15], "format": ".3~f", "labelPadding": 12, "titlePadding": 5, "labelOverlap": false}},
            "y": {"datum": 4.4, "type": "quantitative", "axis": {"title": "Act Disp [m]", "values": [-4, -2, 0, 2, 4], "labelExpr": "'' + datum.value", "labelPadding": 9, "titlePadding": 9, "labelOverlap": false}},
            "text": {"field": "sup", "type": "nominal"}}
        }
      ]
    }
  ]
}
